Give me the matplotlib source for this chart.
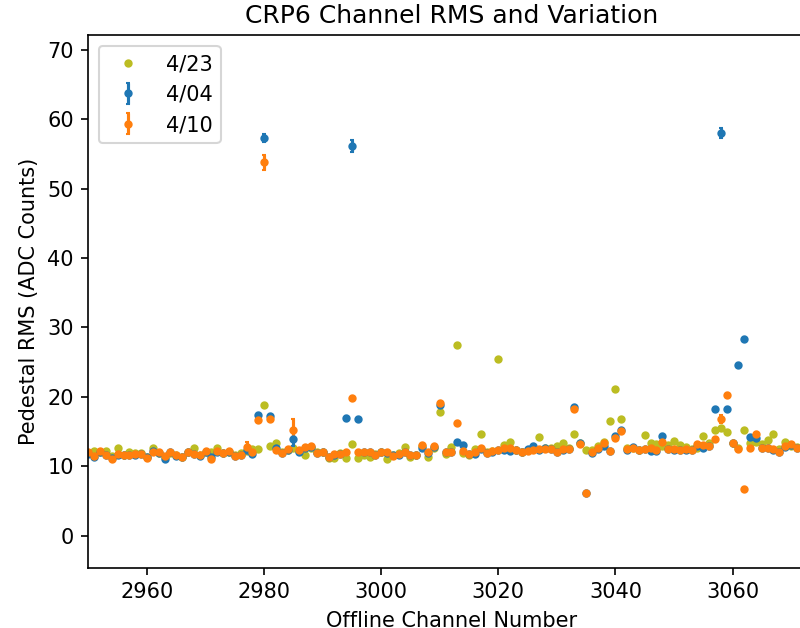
import numpy as np
import matplotlib
matplotlib.use("Agg")
import matplotlib.pyplot as plt

# Offline channels 2950..3071 of CRP6
channels = np.arange(2950, 3072)

# 4/23 run: pedestal RMS only
rms_0423 = [
    11.9, 12.2, 12.0, 12.2, 11.5, 12.6, 11.7, 12.1, 11.9, 11.9,   # 2950
    11.4, 12.6, 11.9, 11.4, 11.9, 11.6, 11.4, 12.0, 12.7, 11.7,   # 2960
    12.1, 12.1, 12.6, 11.9, 12.1, 11.6, 11.9, 12.2, 12.5, 12.5,   # 2970
    18.8, 12.9, 13.4, 12.0, 12.3, 12.7, 12.2, 11.7, 12.7, 12.0,   # 2980
    12.1, 11.2, 11.2, 11.9, 11.2, 13.2, 11.2, 11.7, 11.3, 11.8,   # 2990
    12.0, 11.1, 11.6, 11.9, 12.8, 11.3, 11.7, 12.9, 11.3, 12.6,   # 3000
    17.8, 11.8, 12.8, 27.5, 11.9, 11.6, 12.5, 14.7, 12.1, 12.2,   # 3010
    25.5, 13.1, 13.5, 12.4, 12.0, 12.3, 12.5, 14.2, 12.6, 12.7,   # 3020
    12.9, 13.4, 12.6, 14.6, 13.3, 12.4, 12.3, 12.9, 13.5, 16.6,   # 3030
    21.1, 16.8, 12.6, 12.7, 12.4, 14.5, 13.4, 13.2, 13.0, 13.1,   # 3040
    13.7, 13.1, 12.8, 12.5, 12.6, 14.4, 13.4, 15.2, 15.5, 15.0,   # 3050
    13.3, 12.6, 15.3, 13.4, 13.5, 13.2, 13.8, 14.6, 12.5, 13.5,   # 3060
    13.0, 12.8,                                                   # 3070
]

# 4/04 run: pedestal RMS and its variation
rms_0404 = [
    11.8, 11.3, 12.1, 11.7, 11.2, 11.7, 11.6, 11.6, 11.7, 11.8,
    11.3, 12.2, 11.9, 11.0, 12.0, 11.5, 11.4, 12.0, 11.8, 11.5,
    12.1, 11.3, 12.1, 11.9, 12.1, 11.5, 11.6, 12.3, 11.8, 17.4,
    57.3, 17.3, 12.6, 11.9, 12.4, 14.0, 12.0, 12.7, 12.8, 11.9,
    12.0, 11.4, 11.6, 11.8, 16.9, 56.1, 16.8, 12.0, 12.0, 11.6,
    12.0, 11.9, 11.6, 11.7, 12.0, 11.6, 11.7, 12.6, 11.9, 12.8,
    18.8, 12.1, 12.0, 13.5, 13.1, 11.8, 11.8, 12.5, 11.9, 12.1,
    12.3, 12.4, 12.2, 12.3, 12.1, 12.5, 13.0, 12.4, 12.7, 12.5,
    12.1, 12.4, 12.5, 18.6, 13.3, 6.2, 11.9, 12.5, 12.9, 12.2,
    14.4, 15.2, 12.4, 12.8, 12.3, 12.5, 12.2, 12.2, 14.4, 12.5,
    12.4, 12.4, 12.4, 12.3, 12.9, 12.7, 13.0, 18.3, 58.0, 18.3,
    13.3, 24.6, 28.3, 14.2, 14.1, 12.7, 12.6, 12.4, 12.1, 12.8,
    13.1, 12.6,
]
err_0404 = [
    0.2, 0.2, 0.2, 0.2, 0.2, 0.2, 0.2, 0.2, 0.2, 0.2,
    0.2, 0.2, 0.2, 0.2, 0.2, 0.2, 0.2, 0.2, 0.2, 0.2,
    0.2, 0.2, 0.2, 0.2, 0.2, 0.2, 0.2, 0.4, 0.2, 0.3,
    0.6, 0.3, 0.2, 0.2, 0.2, 1.0, 0.2, 0.2, 0.2, 0.2,
    0.2, 0.2, 0.2, 0.2, 0.3, 0.85, 0.3, 0.2, 0.2, 0.2,
    0.2, 0.2, 0.2, 0.2, 0.2, 0.2, 0.2, 0.2, 0.2, 0.2,
    0.3, 0.2, 0.2, 0.2, 0.2, 0.2, 0.2, 0.2, 0.2, 0.2,
    0.2, 0.2, 0.2, 0.2, 0.2, 0.2, 0.2, 0.2, 0.2, 0.2,
    0.2, 0.2, 0.2, 0.3, 0.2, 0.2, 0.2, 0.2, 0.2, 0.2,
    0.2, 0.2, 0.2, 0.2, 0.2, 0.2, 0.2, 0.2, 0.2, 0.2,
    0.2, 0.2, 0.2, 0.2, 0.2, 0.2, 0.2, 0.3, 0.7, 0.3,
    0.2, 0.3, 0.3, 0.2, 0.2, 0.2, 0.2, 0.2, 0.2, 0.2,
    0.2, 0.2,
]

# 4/10 run: pedestal RMS and its variation
rms_0410 = [
    12.0, 11.5, 12.2, 11.6, 11.1, 11.8, 11.6, 11.6, 11.8, 11.8,
    11.2, 12.1, 12.0, 11.5, 12.0, 11.6, 11.3, 12.1, 11.8, 11.6,
    12.2, 11.1, 12.2, 11.9, 12.2, 11.5, 11.6, 12.8, 12.0, 16.7,
    53.8, 16.8, 12.4, 11.9, 12.5, 15.2, 12.3, 12.8, 12.9, 11.9,
    12.1, 11.4, 11.8, 11.8, 12.0, 19.9, 12.1, 12.1, 12.1, 11.6,
    12.1, 12.0, 11.5, 11.8, 12.1, 11.6, 11.6, 13.1, 12.0, 12.9,
    19.1, 12.1, 12.0, 16.3, 12.2, 11.8, 12.0, 12.6, 11.9, 12.2,
    12.3, 12.6, 12.6, 12.4, 12.1, 12.2, 12.4, 12.5, 12.5, 12.5,
    12.0, 12.5, 12.5, 18.3, 13.2, 6.1, 12.0, 12.6, 13.3, 12.2,
    14.1, 15.1, 12.5, 12.6, 12.3, 12.5, 12.6, 12.4, 13.5, 12.5,
    12.5, 12.4, 12.5, 12.4, 13.2, 13.1, 13.0, 13.9, 16.8, 20.3,
    13.4, 12.5, 6.8, 12.6, 14.7, 12.7, 12.7, 12.5, 12.1, 12.9,
    13.2, 12.6,
]
err_0410 = [
    0.2, 0.2, 0.2, 0.2, 0.2, 0.2, 0.2, 0.2, 0.2, 0.2,
    0.2, 0.2, 0.2, 0.2, 0.2, 0.2, 0.2, 0.2, 0.2, 0.2,
    0.2, 0.2, 0.2, 0.2, 0.2, 0.2, 0.2, 0.7, 0.2, 0.3,
    1.1, 0.3, 0.2, 0.2, 0.2, 1.6, 0.2, 0.2, 0.2, 0.2,
    0.2, 0.2, 0.2, 0.2, 0.2, 0.3, 0.2, 0.2, 0.2, 0.2,
    0.2, 0.2, 0.2, 0.2, 0.2, 0.2, 0.2, 0.2, 0.2, 0.2,
    0.3, 0.2, 0.2, 0.3, 0.2, 0.2, 0.2, 0.2, 0.2, 0.2,
    0.2, 0.2, 0.2, 0.2, 0.2, 0.2, 0.2, 0.2, 0.2, 0.2,
    0.2, 0.2, 0.2, 0.3, 0.2, 0.2, 0.2, 0.2, 0.2, 0.2,
    0.2, 0.2, 0.2, 0.2, 0.2, 0.2, 0.2, 0.2, 0.2, 0.2,
    0.2, 0.2, 0.2, 0.2, 0.2, 0.2, 0.2, 0.2, 0.6, 0.3,
    0.2, 0.2, 0.2, 0.2, 0.2, 0.2, 0.2, 0.2, 0.2, 0.2,
    0.2, 0.2,
]

fig = plt.figure(figsize=(800 / 150, 628 / 150), dpi=150)
# right edge of the axes runs past the figure border
ax = fig.add_axes([0.1106, 0.0960, 0.9075, 0.8475])

ax.plot(channels, rms_0423, '.', color='tab:olive', label='4/23')
ax.errorbar(channels, rms_0404, yerr=err_0404, fmt='.', color='tab:blue',
            capsize=1, label='4/04')
ax.errorbar(channels, rms_0410, yerr=err_0410, fmt='.', color='tab:orange',
            capsize=1, label='4/10')

ax.set_xlim(2950, 3074)
ax.set_ylim(-4.6, 72.05)
ax.set_xticks([2960, 2980, 3000, 3020, 3040, 3060])
ax.set_title('CRP6 Channel RMS and Variation')
ax.set_xlabel('Offline Channel Number')
ax.set_ylabel('Pedestal RMS (ADC Counts)')
ax.legend(loc='upper left')

fig.savefig('out.png', dpi=150)
